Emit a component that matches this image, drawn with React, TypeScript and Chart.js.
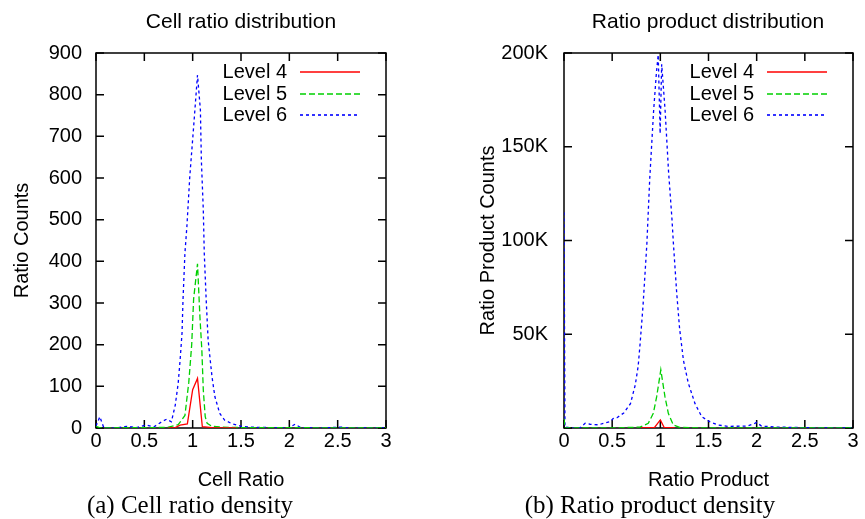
import React, { useEffect, useRef } from "react";
import { Chart, registerables } from "chart.js";

Chart.register(...registerables);

// ---------- DATA ----------
const seriesLabels = ["Level 4", "Level 5", "Level 6"];
const seriesColors = ["#ff0000", "#00d000", "#0000ff"];
const seriesDashes: number[][] = [[], [6, 3], [3, 3]];

const xTicks = [0, 0.5, 1, 1.5, 2, 2.5, 3];

// Cell ratio distribution: [cell ratio, count]
const cellLevel4: [number, number][] = [
  [0.75, 0], [0.82, 1], [0.87, 7], [0.945, 10], [1.0, 92], [1.05, 119], [1.1, 3], [1.2, 1], [1.45, 0],
];
const cellLevel5: [number, number][] = [
  [0, 4], [0.05, 0], [0.3, 1], [0.6, 1], [0.75, 2], [0.85, 8], [0.92, 30], [0.96, 110], [0.99, 200],
  [1.01, 310], [1.05, 394], [1.075, 267], [1.095, 187], [1.11, 91], [1.13, 27], [1.15, 11], [1.2, 4],
  [1.3, 2], [1.5, 1], [2.0, 1], [2.5, 0], [3, 0],
];
const cellLevel6: [number, number][] = [
  [0, 5], [0.04, 27], [0.08, 1], [0.2, 0], [0.32, 4], [0.42, 1], [0.52, 7], [0.6, 3], [0.68, 15],
  [0.73, 21], [0.78, 15], [0.82, 55], [0.85, 107], [0.87, 163], [0.89, 228], [0.9, 307], [0.92, 420],
  [0.94, 483], [0.97, 603], [1.01, 723], [1.05, 847], [1.08, 763], [1.09, 643], [1.11, 523], [1.12, 420],
  [1.14, 307], [1.16, 211], [1.2, 123], [1.23, 75], [1.28, 35], [1.33, 19], [1.4, 11], [1.5, 4],
  [1.6, 2], [1.8, 1], [2.0, 1], [2.06, 9], [2.12, 1], [2.3, 0], [2.54, 2], [2.6, 0], [3, 0],
];
const cellYTicks = [0, 100, 200, 300, 400, 500, 600, 700, 800, 900];

// Ratio product distribution: [ratio product, count]
const prodLevel4: [number, number][] = [
  [0.8, 0], [0.94, 300], [1.0, 4300], [1.04, 300], [1.15, 0],
];
const prodLevel5: [number, number][] = [
  [0, 5000], [0.01, 0], [0.5, 0], [0.79, 500], [0.875, 2500], [0.927, 7800], [0.962, 16700],
  [1.005, 31000], [1.048, 16700], [1.083, 7800], [1.135, 1600], [1.2, 300], [1.5, 0], [3, 0],
];
const prodLevel6: [number, number][] = [
  [0, 115000], [0.01, 500], [0.1, 0], [0.17, 300], [0.22, 2500], [0.27, 2000], [0.36, 1700],
  [0.41, 2500], [0.48, 3400], [0.51, 5000], [0.55, 5500], [0.62, 8000], [0.69, 13000], [0.74, 23000],
  [0.77, 33000], [0.79, 45000], [0.82, 65000], [0.86, 98000], [0.89, 133000], [0.93, 169000],
  [0.96, 190000], [0.978, 199000], [0.998, 157000], [1.014, 194000], [1.05, 169000], [1.085, 137000],
  [1.12, 112000], [1.135, 99000], [1.17, 72000], [1.2, 53000], [1.24, 36000], [1.29, 24000],
  [1.36, 13000], [1.43, 6000], [1.51, 3400], [1.6, 1600], [1.7, 900], [1.9, 1000], [1.98, 2500],
  [2.0, 3000], [2.05, 1000], [2.2, 500], [2.5, 200], [3, 0],
];
const prodYTicks = [0, 50000, 100000, 150000, 200000];
const prodYLabels = ["", "50K", "100K", "150K", "200K"];

// ---------- CHART HELPERS ----------
const SANS = '"Liberation Sans", Arial, Helvetica, sans-serif';
const SERIF = '"Liberation Serif", "Times New Roman", Times, serif';

const framePlugin = {
  id: "gpFrame",
  beforeDatasetsDraw(chart: any) {
    const { ctx, chartArea: a, scales } = chart;
    ctx.save();
    ctx.strokeStyle = "#000";
    ctx.lineWidth = 1.5;
    ctx.setLineDash([]);
    ctx.strokeRect(a.left, a.top, a.right - a.left, a.bottom - a.top);
    const len = 8;
    ctx.beginPath();
    scales.x.ticks.forEach((t: any) => {
      const px = scales.x.getPixelForValue(t.value);
      ctx.moveTo(px, a.bottom);
      ctx.lineTo(px, a.bottom - len);
      ctx.moveTo(px, a.top);
      ctx.lineTo(px, a.top + len);
    });
    scales.y.ticks.forEach((t: any) => {
      const py = scales.y.getPixelForValue(t.value);
      ctx.moveTo(a.left, py);
      ctx.lineTo(a.left + len, py);
      ctx.moveTo(a.right, py);
      ctx.lineTo(a.right - len, py);
    });
    ctx.stroke();
    ctx.restore();
  },
};

const legendPlugin = {
  id: "gpLegend",
  afterDatasetsDraw(chart: any) {
    const { ctx, chartArea: a } = chart;
    ctx.save();
    ctx.font = `20px ${SANS}`;
    ctx.textAlign = "right";
    ctx.textBaseline = "middle";
    chart.data.datasets.forEach((ds: any, i: number) => {
      const y = Math.round(a.top + 19 + i * 21.5);
      ctx.fillStyle = "#000";
      ctx.fillText(ds.label, a.right - 99, y);
      ctx.strokeStyle = seriesColors[i];
      ctx.lineWidth = 1.6;
      ctx.setLineDash(seriesDashes[i]);
      ctx.beginPath();
      ctx.moveTo(a.right - 86, y);
      ctx.lineTo(a.right - 26, y);
      ctx.stroke();
    });
    ctx.restore();
  },
};

type PanelProps = {
  series: [number, number][][];
  yTicks: number[];
  yLabels: string[];
  yTitle: string;
  xTitle: string;
  yAxisWidth: number;
  yTitlePad: number;
  yTickPad: number;
  padRight: number;
  width: number;
  left: number;
};

function Panel(p: PanelProps) {
  const ref = useRef<HTMLCanvasElement | null>(null);
  useEffect(() => {
    if (!ref.current) return;
    const chart = new Chart(ref.current, {
      type: "line",
      data: {
        datasets: p.series.map((s, i) => ({
          label: seriesLabels[i],
          data: s.map(([x, y]) => ({ x, y })),
          borderColor: seriesColors[i],
          borderDash: seriesDashes[i],
          borderWidth: 1.3,
          pointRadius: 0,
          tension: 0,
          fill: false,
        })),
      },
      options: {
        animation: false,
        responsive: false,
        maintainAspectRatio: false,
        layout: { padding: { top: 53, right: p.padRight, bottom: 0, left: 0 } },
        plugins: { legend: { display: false }, title: { display: false }, tooltip: { enabled: false } },
        scales: {
          x: {
            type: "linear",
            min: 0,
            max: 3,
            grid: { display: false, drawTicks: false },
            border: { display: false },
            afterBuildTicks: (s: any) => {
              s.ticks = xTicks.map((v) => ({ value: v }));
            },
            afterFit: (s: any) => {
              s.height = 91;
            },
            ticks: {
              autoSkip: false,
              maxRotation: 0,
              padding: 1,
              color: "#000",
              font: { family: SANS, size: 20 },
              callback: (v: any) => String(v),
            },
            title: {
              display: true,
              text: p.xTitle,
              color: "#000",
              font: { family: SANS, size: 20 },
              padding: { top: 0, bottom: 27 },
            },
          },
          y: {
            type: "linear",
            min: p.yTicks[0],
            max: p.yTicks[p.yTicks.length - 1],
            grid: { display: false, drawTicks: false },
            border: { display: false },
            afterBuildTicks: (s: any) => {
              s.ticks = p.yTicks.map((v) => ({ value: v }));
            },
            afterFit: (s: any) => {
              s.width = p.yAxisWidth;
            },
            ticks: {
              autoSkip: false,
              padding: p.yTickPad,
              color: "#000",
              font: { family: SANS, size: 20 },
              callback: (v: any) => {
                const idx = p.yTicks.indexOf(Number(v));
                return idx >= 0 ? p.yLabels[idx] : "";
              },
            },
            title: {
              display: true,
              text: p.yTitle,
              color: "#000",
              font: { family: SANS, size: 20 },
              padding: { top: p.yTitlePad, bottom: 0 },
            },
          },
        },
      },
      plugins: [framePlugin, legendPlugin],
    } as any);
    return () => chart.destroy();
  }, []);
  return (
    <canvas
      ref={ref}
      width={p.width}
      height={519}
      style={{ position: "absolute", left: p.left, top: 0, width: p.width, height: 519 }}
    />
  );
}

function Label(props: { text: string; cx: number; top: number; font: string; size: number }) {
  return (
    <div
      style={{
        position: "absolute",
        left: props.cx - 200,
        top: props.top,
        width: 400,
        textAlign: "center",
        fontFamily: props.font,
        fontSize: props.size,
        lineHeight: `${Math.round(props.size * 1.2)}px`,
        color: "#000",
        whiteSpace: "nowrap",
      }}
    >
      {props.text}
    </div>
  );
}

export default function App() {
  return (
    <div
      style={{
        position: "absolute",
        left: 0,
        top: 0,
        width: 865,
        height: 519,
        background: "#fff",
        overflow: "hidden",
      }}
    >
      <Panel
        series={[cellLevel4, cellLevel5, cellLevel6]}
        yTicks={cellYTicks}
        yLabels={cellYTicks.map(String)}
        yTitle="Ratio Counts"
        xTitle="Cell Ratio"
        yAxisWidth={96}
        yTitlePad={10}
        yTickPad={14}
        padRight={46}
        width={432}
        left={0}
      />
      <Panel
        series={[prodLevel4, prodLevel5, prodLevel6]}
        yTicks={prodYTicks}
        yLabels={prodYLabels}
        yTitle="Ratio Product Counts"
        xTitle="Ratio Product"
        yAxisWidth={132}
        yTitlePad={44}
        yTickPad={16}
        padRight={12}
        width={433}
        left={432}
      />
      <Label text="Cell ratio distribution" cx={241} top={8} font={SANS} size={21} />
      <Label text="Ratio product distribution" cx={708} top={8} font={SANS} size={21} />
      <Label text="(a) Cell ratio density" cx={190} top={490} font={SERIF} size={25} />
      <Label text="(b) Ratio product density" cx={650} top={490} font={SERIF} size={25} />
    </div>
  );
}
